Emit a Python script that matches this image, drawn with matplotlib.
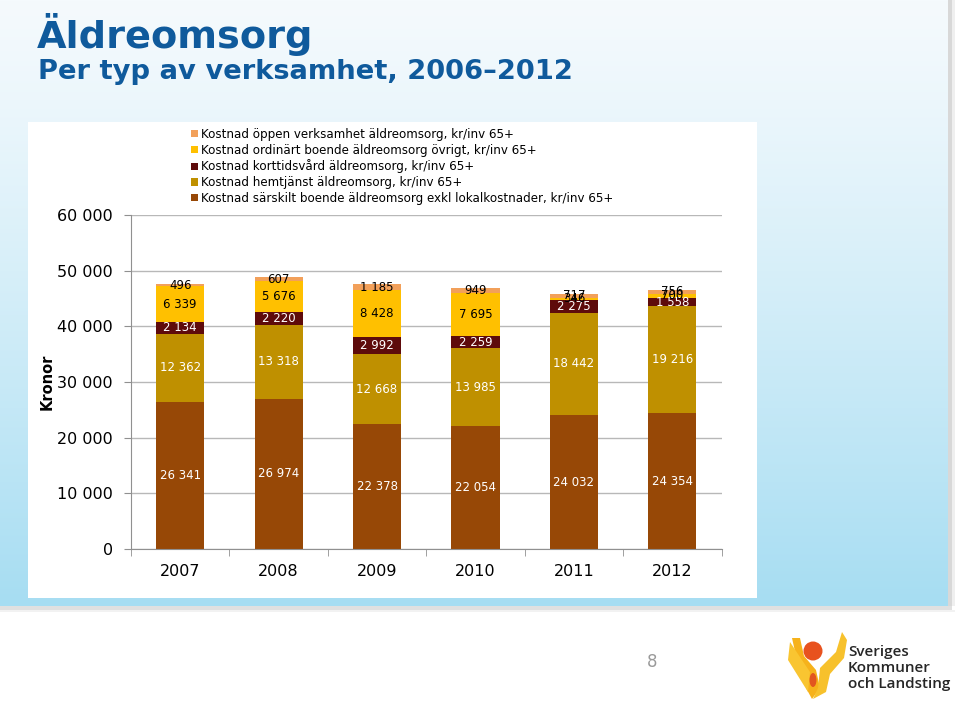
import numpy as np
import matplotlib
matplotlib.use("Agg")
import matplotlib.pyplot as plt
from matplotlib.patches import Rectangle, Circle, Polygon, Ellipse

# ---------------- data ----------------
years = ["2007", "2008", "2009", "2010", "2011", "2012"]
sarskilt = [26341, 26974, 22378, 22054, 24032, 24354]
hemtjanst = [12362, 13318, 12668, 13985, 18442, 19216]
korttid = [2134, 2220, 2992, 2259, 2275, 1558]
ordinart = [6339, 5676, 8428, 7695, 346, 700]
oppen = [496, 607, 1185, 949, 717, 756]

series_names = [
    "Kostnad särskilt boende äldreomsorg exkl lokalkostnader, kr/inv 65+",
    "Kostnad hemtjänst äldreomsorg, kr/inv 65+",
    "Kostnad korttidsvård äldreomsorg, kr/inv 65+",
    "Kostnad ordinärt boende äldreomsorg övrigt, kr/inv 65+",
    "Kostnad öppen verksamhet äldreomsorg, kr/inv 65+",
]
series_vals = [sarskilt, hemtjanst, korttid, ordinart, oppen]
colors = ["#974806", "#BF9000", "#5E0B0B", "#FFC000", "#F2A05A"]
label_colors = ["white", "white", "white", "black", "black"]
yticks = [0, 10000, 20000, 30000, 40000, 50000, 60000]

def fmt(v):
    return f"{v:,}".replace(",", " ")

W, H = 960, 706
fig = plt.figure(figsize=(W / 100, H / 100), dpi=100)

# ---------------- background ----------------
bg = fig.add_axes([0, 0, 1, 1], zorder=0)
bg.set_xlim(0, W)
bg.set_ylim(H, 0)
bg.axis("off")

img = np.ones((H, W, 3))
top = np.array([245, 250, 253]) / 255
bot = np.array([166, 221, 242]) / 255
yy = np.arange(606) / 606.0
f = yy ** 1.2
grad = top[None, :] * (1 - f[:, None]) + bot[None, :] * f[:, None]
img[:606, :948, :] = grad[:, None, :]
img[:606, 948:952, :] = 0.85
img[606:610, :952, :] = 0.88
img[:606, 952:955, :] = 0.94
img[610:612, :955, :] = 0.95
bg.imshow(img, extent=(0, W, H, 0), aspect="auto", interpolation="bilinear")
bg.add_patch(Rectangle((28, 122), 729, 476, fc="white", ec="none"))

# logo
bg.add_patch(Polygon([(792, 638), (796, 656), (808, 670), (806, 688), (812, 699),
                      (820, 688), (816, 670), (804, 656), (800, 638)],
                     closed=True, fc="#F6B21B", ec="none"))
bg.add_patch(Polygon([(842, 632), (836, 652), (820, 668), (818, 688), (813, 699),
                      (826, 692), (830, 674), (844, 658), (847, 640)],
                     closed=True, fc="#F7C12C", ec="none"))
bg.add_patch(Polygon([(790, 642), (788, 660), (798, 676), (808, 692), (810, 672)],
                     closed=True, fc="#F9C531", ec="none"))
bg.add_patch(Circle((813, 651), 9.5, fc="#E8521E", ec="none"))
bg.add_patch(Ellipse((813, 680), 7, 14, fc="#E2561F", ec="none"))
fig.text(848 / W, 1 - 668 / H, "Sveriges\nKommuner\noch Landsting",
         family="Open Sans", fontsize=11, fontweight="semibold", color="#262626",
         va="center", ha="left", linespacing=1.15)
fig.text(652 / W, 1 - 662 / H, "8", fontsize=12, color="#9A9A9A",
         ha="center", va="center")

# titles
fig.text(37 / W, 1 - 35 / H, "Äldreomsorg", fontsize=27.5, fontweight="bold",
         color="#0F5A9C", va="center", ha="left")
fig.text(38 / W, 1 - 72 / H, "Per typ av verksamhet, 2006\u20132012", fontsize=19.7,
         fontweight="bold", color="#0F5A9C", va="center", ha="left")

# ---------------- chart ----------------
ax = fig.add_axes([131 / W, (H - 549) / H, 590.5 / W, 334 / H], zorder=1)
ax.patch.set_alpha(0)
x = np.arange(len(years))
bottom = np.zeros(len(years))
handles = []
for name, vals, c, lc in zip(series_names, series_vals, colors, label_colors):
    vals = np.array(vals, dtype=float)
    b = ax.bar(x, vals, width=0.49, bottom=bottom, color=c, zorder=2, label=name)
    handles.append(b)
    for xi, v, bt in zip(x, vals, bottom):
        ax.text(xi, bt + v / 2, fmt(int(v)), ha="center", va="center",
                fontsize=8.5, color=lc, zorder=3)
    bottom += vals

ax.set_xlim(-0.5, len(years) - 0.5)
ax.set_ylim(0, 60000)
ax.set_yticks(yticks)
ax.set_yticklabels([fmt(v) for v in yticks], fontsize=11.5)
ax.yaxis.grid(True, color="#B8B8B8", linewidth=1, zorder=0)
ax.set_axisbelow(True)
ax.set_xticks(x)
ax.set_xticklabels(years, fontsize=11.5)
ax.set_xticks(np.arange(-0.5, len(years)), minor=True)
ax.tick_params(axis="x", which="major", length=0, pad=11)
ax.tick_params(axis="x", which="minor", length=5, color="#909090", direction="out")
ax.tick_params(axis="y", length=5, color="#909090", pad=8)
for s in ["top", "right"]:
    ax.spines[s].set_visible(False)
for s in ["left", "bottom"]:
    ax.spines[s].set_color("#909090")
ax.set_ylabel("Kronor", fontsize=10.5, fontweight="bold")
ax.yaxis.set_label_coords(-0.13, 0.5)

leg = fig.legend(handles[::-1], series_names[::-1], loc="upper left",
                 bbox_to_anchor=(191 / W, 1 - 128 / H), frameon=False,
                 fontsize=8.6, handlelength=0.55, handleheight=0.55,
                 handletextpad=0.3, labelspacing=0.23, borderpad=0,
                 borderaxespad=0)

fig.savefig("out.png", dpi=100)
